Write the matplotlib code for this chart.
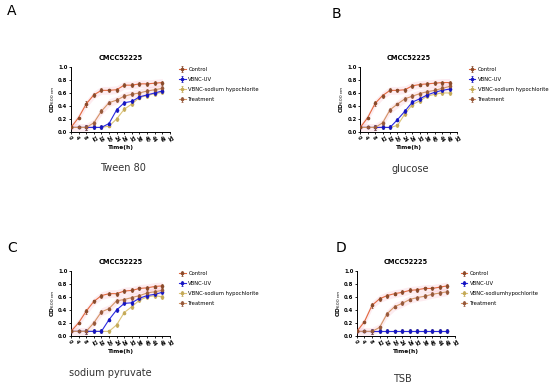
import matplotlib.pyplot as plt
import matplotlib.ticker as mticker

time_h = [0, 4, 8, 12, 16, 20, 24, 28, 32, 36, 40, 44, 48]
x_ticks = [0, 4, 8, 12, 16, 20, 24, 28, 32, 36, 40, 44, 48, 52]
series_names = ["Control", "VBNC-UV", "VBNC-sodium hypochlorite", "Treatment"]
series_names_d = ["Control", "VBNC-UV", "VBNC-sodiumhypochlorite", "Treatment"]
panel_letters = ["A", "B", "C", "D"]
captions = ["Tween 80", "glucose", "sodium pyruvate", "TSB"]
title = "CMCC52225"

# panel A - Tween 80
a_control = [0.07, 0.22, 0.43, 0.57, 0.64, 0.64, 0.65, 0.72, 0.72, 0.74, 0.74, 0.75, 0.76]
a_uv = [0.07, 0.07, 0.07, 0.07, 0.07, 0.13, 0.34, 0.45, 0.47, 0.54, 0.57, 0.60, 0.63]
a_naclo = [0.07, 0.07, 0.07, 0.07, 0.07, 0.09, 0.20, 0.35, 0.43, 0.53, 0.56, 0.59, 0.61]
a_treat = [0.07, 0.07, 0.07, 0.14, 0.32, 0.45, 0.49, 0.55, 0.58, 0.60, 0.63, 0.65, 0.67]

# panel B - glucose
b_control = [0.07, 0.22, 0.44, 0.56, 0.64, 0.64, 0.65, 0.71, 0.73, 0.74, 0.75, 0.76, 0.76]
b_uv = [0.07, 0.07, 0.07, 0.07, 0.07, 0.19, 0.32, 0.46, 0.51, 0.57, 0.61, 0.64, 0.66]
b_naclo = [0.07, 0.07, 0.07, 0.07, 0.07, 0.10, 0.28, 0.42, 0.48, 0.55, 0.58, 0.60, 0.60]
b_treat = [0.07, 0.07, 0.07, 0.14, 0.34, 0.43, 0.51, 0.55, 0.59, 0.62, 0.64, 0.67, 0.70]

# panel C - sodium pyruvate
c_control = [0.07, 0.20, 0.38, 0.53, 0.62, 0.65, 0.65, 0.69, 0.70, 0.73, 0.74, 0.76, 0.77]
c_uv = [0.07, 0.07, 0.07, 0.07, 0.07, 0.25, 0.40, 0.50, 0.51, 0.58, 0.62, 0.64, 0.67]
c_naclo = [0.07, 0.07, 0.07, 0.07, 0.07, 0.07, 0.17, 0.36, 0.45, 0.55, 0.60, 0.62, 0.60]
c_treat = [0.07, 0.07, 0.07, 0.20, 0.37, 0.42, 0.54, 0.56, 0.59, 0.62, 0.66, 0.68, 0.70]

# panel D - TSB
d_control = [0.07, 0.22, 0.47, 0.57, 0.62, 0.65, 0.67, 0.70, 0.71, 0.73, 0.73, 0.75, 0.77]
d_uv = [0.07] * 13
d_naclo = [0.07] * 13
d_treat = [0.07, 0.07, 0.07, 0.13, 0.34, 0.45, 0.50, 0.56, 0.59, 0.61, 0.64, 0.66, 0.68]

err = [0.0, 0.01, 0.04, 0.03, 0.03, 0.02, 0.03, 0.03, 0.03, 0.03, 0.03, 0.03, 0.03]

panels = [
    (a_control, a_uv, a_naclo, a_treat),
    (b_control, b_uv, b_naclo, b_treat),
    (c_control, c_uv, c_naclo, c_treat),
    (d_control, d_uv, d_naclo, d_treat),
]

colors = ["#e2683e", "#2a2ae0", "#dcc47a", "#d39466"]
marker_colors = ["#8a4a2a", "#1515c0", "#c4aa58", "#96583a"]

# axes boxes in figure fractions [left, bottom, width, height]
boxes = [
    [0.129, 0.659, 0.180, 0.168],
    [0.655, 0.659, 0.176, 0.168],
    [0.129, 0.132, 0.180, 0.168],
    [0.649, 0.132, 0.178, 0.168],
]
legend_pos = [(0.326, 0.827), (0.852, 0.827), (0.326, 0.299), (0.838, 0.299)]
letter_pos = [(0.013, 0.99), (0.603, 0.982), (0.013, 0.378), (0.61, 0.378)]
caption_pos = [(0.224, 0.565), (0.745, 0.563), (0.2, 0.036), (0.731, 0.021)]

fig = plt.figure(figsize=(5.5, 3.87), dpi=100)

for i, data in enumerate(panels):
    ax = fig.add_axes(boxes[i])
    names = series_names_d if i == 3 else series_names
    for j in [1, 2, 3, 0]:
        y = data[j]
        if j in (0, 3):
            ax.fill_between(time_h, [v - 0.06 for v in y], [v + 0.06 for v in y],
                            color="#f5a0b8", alpha=0.2, lw=0)
        ax.errorbar(time_h, y, yerr=err, color=colors[j], lw=0.8,
                    marker="o", ms=1.6, mfc=marker_colors[j], mec=marker_colors[j],
                    elinewidth=0.6, capsize=0.8, capthick=0.5, ecolor=marker_colors[j],
                    label=names[j], zorder=3 if j != 2 else 2)
    ax.set_xlim(0, 52)
    ax.set_ylim(0, 1.0)
    ax.set_xticks(x_ticks)
    ax.set_xticklabels([str(t) for t in x_ticks], rotation=-60, fontsize=3.5,
                       fontweight="bold", ha="left", rotation_mode="anchor")
    ax.yaxis.set_major_locator(mticker.MultipleLocator(0.2))
    ax.yaxis.set_major_formatter(mticker.FormatStrFormatter("%.1f"))
    for lab in ax.get_yticklabels():
        lab.set_fontsize(3.8)
        lab.set_fontweight("bold")
    ax.tick_params(length=1.5, width=0.6, pad=1)
    for s in ["top", "right"]:
        ax.spines[s].set_visible(False)
    for s in ["left", "bottom"]:
        ax.spines[s].set_linewidth(0.7)
    ax.set_title(title, fontsize=4.8, fontweight="bold", pad=5)
    ax.set_xlabel("Time(h)", fontsize=4.2, fontweight="bold", labelpad=1)
    ax.set_ylabel("OD$_{600\\ nm}$", fontsize=4.2, fontweight="bold", labelpad=1)
    handles, labels = ax.get_legend_handles_labels()
    order = [labels.index(n) for n in names]
    fig.legend([handles[k] for k in order], [labels[k] for k in order],
               loc="upper left", bbox_to_anchor=legend_pos[i], frameon=False,
               fontsize=3.8, handlelength=1.2, labelspacing=0.95, handletextpad=0.5,
               borderaxespad=0, borderpad=0)
    fig.text(letter_pos[i][0], letter_pos[i][1], panel_letters[i], fontsize=10,
             va="top", ha="left")
    fig.text(caption_pos[i][0], caption_pos[i][1], captions[i], fontsize=7,
             ha="center", va="center", color="#333333")

plt.savefig("out.png", dpi=100)
plt.close()
